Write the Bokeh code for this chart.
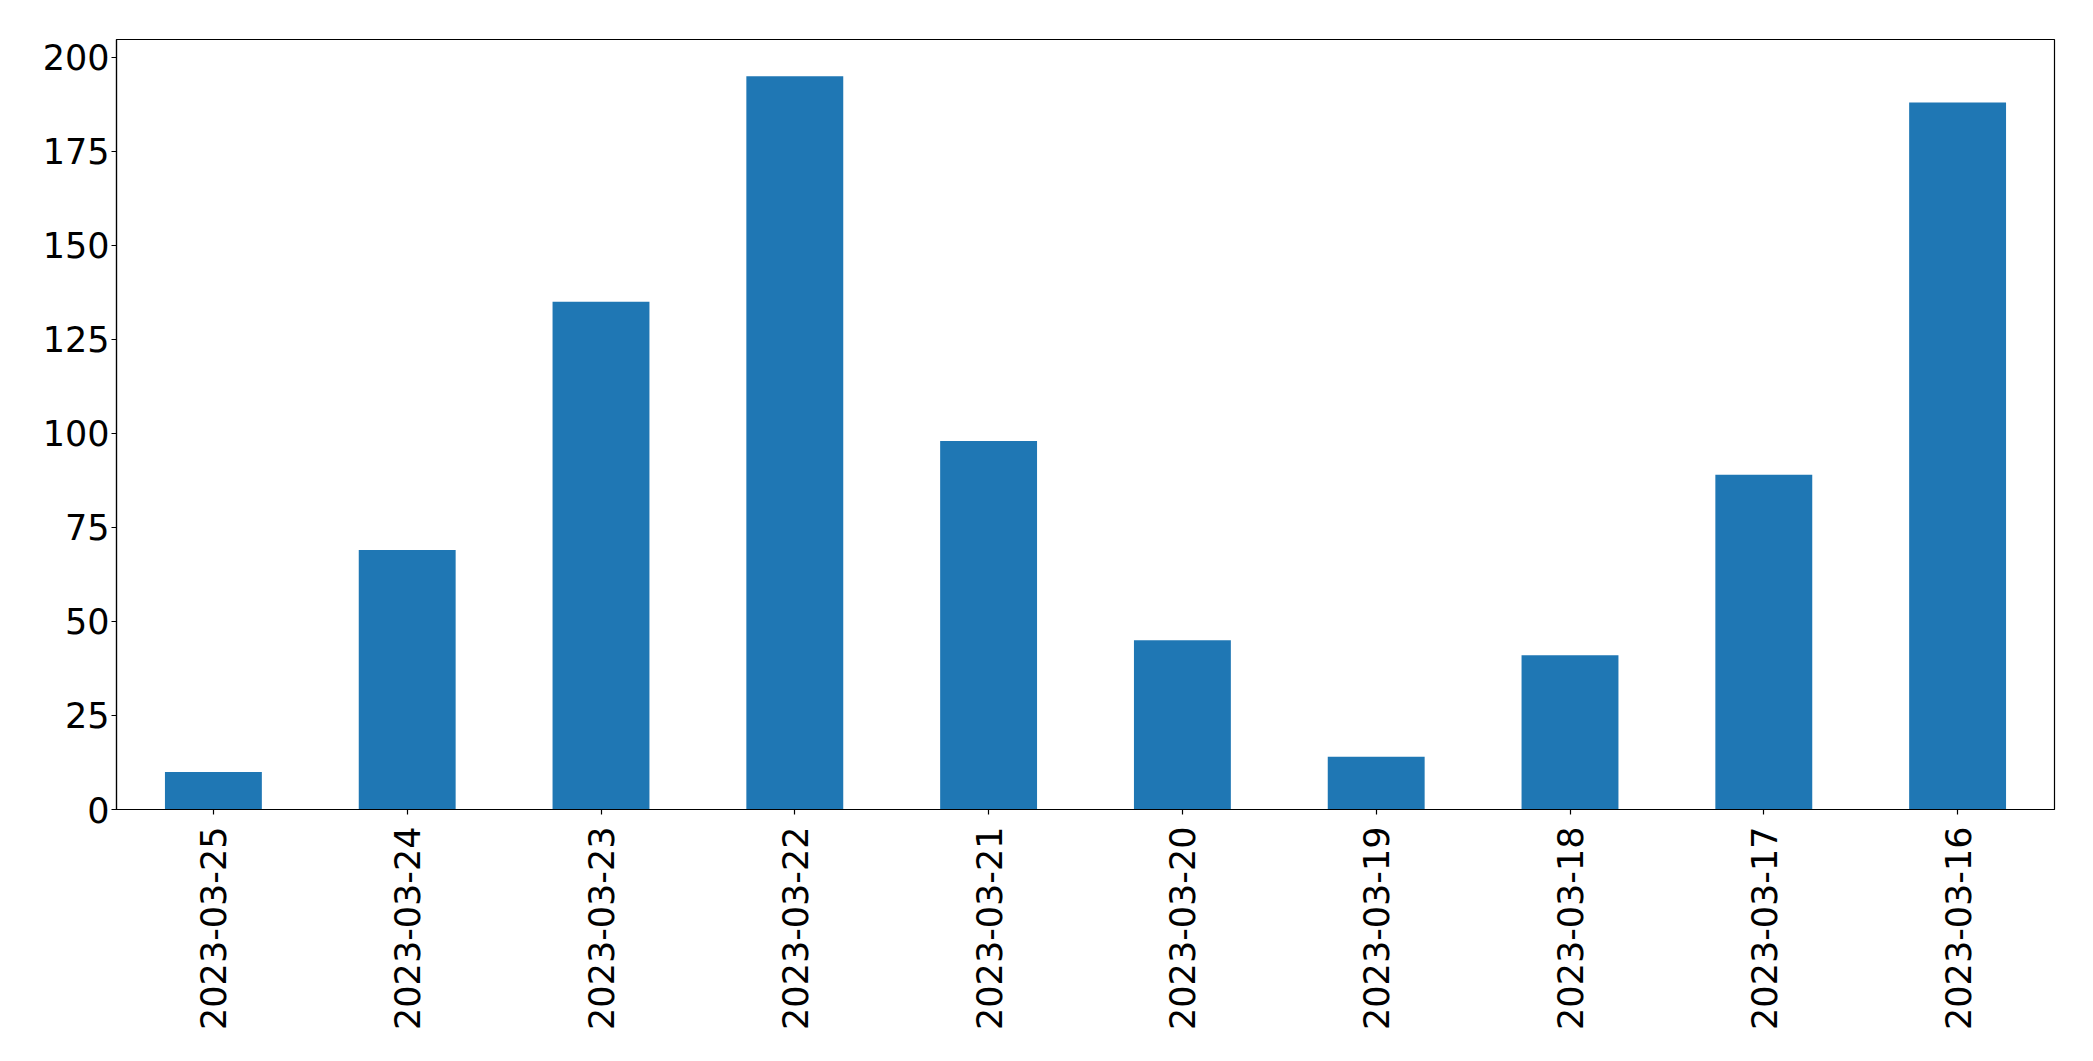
import math
from bokeh.plotting import figure
from bokeh.models import Range1d, FactorRange, FixedTicker, ColumnDataSource
from bokeh.embed import file_html
from bokeh.resources import INLINE

dates = ["2023-03-25", "2023-03-24", "2023-03-23", "2023-03-22", "2023-03-21",
         "2023-03-20", "2023-03-19", "2023-03-18", "2023-03-17", "2023-03-16"]
counts = [10, 69, 135, 195, 98, 45, 14, 41, 89, 188]
y_ticks = [0, 25, 50, 75, 100, 125, 150, 175, 200]

src = ColumnDataSource(data=dict(date=dates, count=counts))

p = figure(
    width=2077, height=1045,
    x_range=FactorRange(factors=dates, range_padding=0),
    y_range=Range1d(0, max(counts) * 1.05),
    output_backend="svg", toolbar_location=None,
    min_border_left=116, min_border_right=23, min_border_top=39, min_border_bottom=236,
)
p.vbar(x="date", top="count", width=0.5, source=src, color="#1f77b4", line_color=None)

p.xgrid.visible = False
p.ygrid.visible = False
p.outline_line_color = "black"
p.outline_line_width = 1.2
p.background_fill_color = "white"
p.border_fill_color = "white"

for ax in (p.xaxis[0], p.yaxis[0]):
    ax.major_label_text_font = "DejaVu Sans"
    ax.major_label_text_font_size = "35px"
    ax.major_label_text_color = "black"
    ax.axis_line_color = "black"
    ax.axis_line_width = 1.2
    ax.major_tick_line_color = "black"
    ax.major_tick_line_width = 1.2
    ax.major_tick_in = 0
    ax.major_tick_out = 5
    ax.minor_tick_line_color = None

p.yaxis[0].ticker = FixedTicker(ticks=y_ticks)
p.yaxis[0].major_label_standoff = 2
p.xaxis[0].major_label_orientation = math.pi / 2
p.xaxis[0].major_label_standoff = 12

open("out.html", "w").write(file_html(p, INLINE))
